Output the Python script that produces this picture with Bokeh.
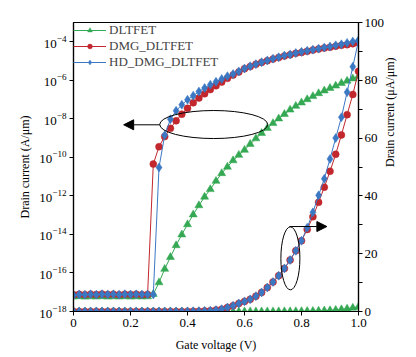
import math
from bokeh.plotting import figure
from bokeh.models import (Range1d, LinearAxis, LinearScale, FixedTicker, Arrow, NormalHead,
                          CustomJSTickFormatter)
from bokeh.embed import file_html
from bokeh.resources import INLINE

# ---------------- data ----------------
gate_voltage = [0.00, 0.02, 0.04, 0.06, 0.08, 0.10, 0.12, 0.14, 0.16, 0.18,
                0.20, 0.22, 0.24, 0.26, 0.28, 0.30, 0.32, 0.34, 0.36, 0.38,
                0.40, 0.42, 0.44, 0.46, 0.48, 0.50, 0.52, 0.54, 0.56, 0.58,
                0.60, 0.62, 0.64, 0.66, 0.68, 0.70, 0.72, 0.74, 0.76, 0.78,
                0.80, 0.82, 0.84, 0.86, 0.88, 0.90, 0.92, 0.94, 0.96, 0.98, 1.00]

# drain current on log axis (A/um)
dltfet_log = [5.9e-18, 6.1e-18, 5.8e-18, 6.0e-18, 5.9e-18, 6.1e-18, 5.8e-18, 6.0e-18, 5.9e-18, 6.1e-18,
              5.8e-18, 6.0e-18, 5.9e-18, 6.0e-18, 7.9e-18, 3.2e-17, 1.6e-16, 6.6e-16, 2.7e-15, 9.8e-15,
              3.3e-14, 1.07e-13, 3.2e-13, 8.9e-13, 2.2e-12, 5.9e-12, 1.48e-11, 3.2e-11, 6.9e-11, 1.32e-10,
              2.4e-10, 4.9e-10, 9.5e-10, 1.8e-9, 3.3e-9, 5.9e-9, 1.02e-8, 1.74e-8, 2.95e-8, 4.6e-8,
              6.9e-8, 1.02e-7, 1.48e-7, 2.1e-7, 2.9e-7, 3.9e-7, 5.2e-7, 7.1e-7, 9.3e-7, 1.23e-6, 1.62e-6]
dmg_log = [7.4e-18, 7.8e-18, 7.5e-18, 7.9e-18, 7.6e-18, 8.0e-18, 7.6e-18, 7.9e-18, 7.5e-18, 7.8e-18,
           7.6e-18, 7.9e-18, 7.5e-18, 7.7e-18, 4.5e-11, 3.6e-10, 1.2e-9, 3.2e-9, 7.9e-9, 1.74e-8,
           3.5e-8, 6.8e-8, 1.2e-7, 2.0e-7, 3.3e-7, 5.2e-7, 8.1e-7, 1.26e-6, 1.86e-6, 2.7e-6,
           4.0e-6, 5.2e-6, 6.8e-6, 8.5e-6, 1.05e-5, 1.26e-5, 1.51e-5, 1.82e-5, 2.1e-5, 2.5e-5,
           2.8e-5, 3.2e-5, 3.7e-5, 4.2e-5, 4.7e-5, 5.2e-5, 5.9e-5, 6.5e-5, 7.1e-5, 7.9e-5, 8.9e-5]
hd_dmg_log = [6.9e-18, 7.7e-18, 7.4e-18, 7.8e-18, 7.5e-18, 7.9e-18, 7.7e-18, 7.8e-18, 7.5e-18, 7.9e-18,
              7.6e-18, 7.8e-18, 7.6e-18, 7.7e-18, 7.6e-18, 3.0e-11, 1.41e-9, 9.5e-9, 2.6e-8, 5.4e-8,
              9.8e-8, 1.58e-7, 2.6e-7, 4.0e-7, 5.9e-7, 8.3e-7, 1.17e-6, 1.62e-6, 2.1e-6, 2.9e-6,
              4.1e-6, 5.4e-6, 6.9e-6, 8.7e-6, 1.07e-5, 1.32e-5, 1.58e-5, 1.91e-5, 2.2e-5, 2.6e-5,
              3.0e-5, 3.4e-5, 3.9e-5, 4.4e-5, 5.0e-5, 5.6e-5, 6.5e-5, 7.4e-5, 8.7e-5, 1.02e-4, 1.20e-4]

# drain current on linear axis (uA/um)
dltfet_lin = [0.0, 0.0, 0.0, 0.0, 0.0, 0.0, 0.0, 0.0, 0.0, 0.0,
              0.0, 0.0, 0.0, 0.0, 0.0, 0.0, 0.0, 0.0, 0.0, 0.0,
              0.0, 0.0, 0.0, 0.0, 0.0, 0.0, 0.0, 0.0, 0.0, 0.0,
              0.0, 0.0, 0.0, 0.0, 0.0, 0.0, 0.01, 0.02, 0.03, 0.05,
              0.07, 0.1, 0.15, 0.21, 0.29, 0.39, 0.52, 0.71, 0.93, 1.23, 1.62]
dmg_lin = [0.0, 0.0, 0.0, 0.0, 0.0, 0.0, 0.0, 0.0, 0.0, 0.0,
           0.0, 0.0, 0.0, 0.0, 0.0, 0.0, 0.0, 0.0, 0.0, 0.0,
           0.02, 0.05, 0.1, 0.2, 0.3, 0.5, 0.8, 1.4, 2.0, 2.8,
           3.5, 4.2, 5.3, 6.6, 8.3, 10.2, 12.4, 14.9, 17.8, 21.0,
           24.5, 28.4, 32.8, 37.8, 43.0, 48.5, 54.4, 61.1, 68.1, 75.1, 83.1]
hd_dmg_lin = [0.0, 0.0, 0.0, 0.0, 0.0, 0.0, 0.0, 0.0, 0.0, 0.0,
              0.0, 0.0, 0.0, 0.0, 0.0, 0.0, 0.0, 0.0, 0.0, 0.0,
              0.02, 0.05, 0.1, 0.2, 0.3, 0.5, 0.8, 1.4, 2.0, 2.8,
              3.5, 4.2, 5.3, 6.6, 8.3, 10.2, 12.4, 14.9, 17.8, 21.0,
              24.5, 29.0, 34.3, 40.2, 45.9, 52.8, 60.0, 67.2, 75.9, 84.7, 93.7]

series_names = ["DLTFET", "DMG_DLTFET", "HD_DMG_DLTFET"]
log_ticks = [1e-18, 1e-16, 1e-14, 1e-12, 1e-10, 1e-8, 1e-6, 1e-4]
x_ticks = [0, 0.2, 0.4, 0.6, 0.8, 1.0]
lin_ticks = [0, 20, 40, 60, 80, 100]
lin_minor = [10, 30, 50, 70, 90]

# ---------------- style ----------------
GREEN = "#34a853"
RED = "#c1272d"
BLUE = "#3b78c3"
FONT = "Liberation Serif"

p = figure(frame_width=285, frame_height=289,
           x_range=Range1d(0, 1.0), y_range=Range1d(1e-18, 1e-3),
           y_axis_type="log", output_backend="svg", toolbar_location=None,
           min_border_left=73, min_border_right=52, min_border_top=22, min_border_bottom=42)
p.extra_y_ranges = {"lin": Range1d(0, 100)}
p.extra_y_scales = {"lin": LinearScale()}
p.grid.visible = False
p.outline_line_color = "black"
p.outline_line_width = 1.2
p.background_fill_color = "white"
p.border_fill_color = "white"

# x axis
xa = p.xaxis[0]
xa.ticker = FixedTicker(ticks=x_ticks, minor_ticks=[])
xa.formatter = CustomJSTickFormatter(code="return tick == 0 ? '0' : tick.toFixed(1);")
xa.axis_label = "Gate voltage (V)"

# left log axis
ya = p.yaxis[0]
ya.ticker = FixedTicker(ticks=log_ticks, minor_ticks=[])
ya.axis_label = "Drain current (A/μm)"

# right linear axis
ra = LinearAxis(y_range_name="lin", axis_label="Drain current (μA/μm)",
                ticker=FixedTicker(ticks=lin_ticks, minor_ticks=lin_minor))
p.add_layout(ra, "right")

for ax in [xa, ya, ra]:
    ax.axis_line_color = "black"
    ax.axis_line_width = 1.2
    ax.major_tick_line_color = "black"
    ax.minor_tick_line_color = "black"
    ax.major_tick_out = 4
    ax.major_tick_in = 0
    ax.minor_tick_out = 4
    ax.minor_tick_in = 0
    ax.major_label_text_font = FONT
    ax.major_label_text_font_size = "13px"
    ax.major_label_text_color = "black"
    ax.major_label_standoff = 3
    ax.axis_label_text_font = FONT
    ax.axis_label_text_font_size = "12px"
    ax.axis_label_text_font_style = "normal"
    ax.axis_label_text_color = "black"
    ax.axis_label_standoff = 6
xa.axis_label_standoff = 8
ya.axis_label_standoff = 4
ra.axis_label_standoff = 3
ra.major_label_standoff = 2
if "axis_label_orientation" in ra.properties():
    ra.axis_label_orientation = math.pi / 2

# ---------------- series ----------------
specs = [
    (dltfet_log, dltfet_lin, GREEN, "triangle", 8, series_names[0]),
    (dmg_log, dmg_lin, RED, "circle", 7, series_names[1]),
    (hd_dmg_log, hd_dmg_lin, BLUE, "diamond", 9, series_names[2]),
]
for ylog, ylin, col, mk, sz, name in specs:
    p.line(gate_voltage, ylog, line_color=col, line_width=1, legend_label=name)
    p.scatter(gate_voltage, ylog, marker=mk, size=sz, fill_color=col, line_color=col,
              line_width=0.5, legend_label=name)
    p.line(gate_voltage, ylin, line_color=col, line_width=1, y_range_name="lin")
    p.scatter(gate_voltage, ylin, marker=mk, size=sz, fill_color=col, line_color=col,
              line_width=0.5, y_range_name="lin")

# ---------------- annotations (ellipses + arrows) ----------------
p.ellipse(x=[0.492], y=[64.7], width=[0.379], height=[9.7], y_range_name="lin",
          fill_color=None, line_color="black", line_width=1)
p.add_layout(Arrow(end=NormalHead(size=10, fill_color="black", line_color="black"),
                   x_start=0.303, y_start=64.6, x_end=0.176, y_end=64.6,
                   y_range_name="lin", line_color="black", line_width=1))
p.ellipse(x=[0.761], y=[18.4], width=[0.0667], height=[21.8], y_range_name="lin",
          fill_color=None, line_color="black", line_width=1)
p.add_layout(Arrow(end=NormalHead(size=10, fill_color="black", line_color="black"),
                   x_start=0.758, y_start=29.4, x_end=0.889, y_end=29.4,
                   y_range_name="lin", line_color="black", line_width=1))

# ---------------- legend ----------------
lg = p.legend[0]
lg.location = "top_left"
lg.border_line_color = None
lg.background_fill_alpha = 0
lg.label_text_font = FONT
lg.label_text_font_size = "13px"
lg.glyph_width = 33
lg.glyph_height = 12
lg.label_height = 12
lg.spacing = 0
lg.padding = 4
lg.margin = 0
lg.label_standoff = 3

open("out.html", "w").write(file_html(p, INLINE))
